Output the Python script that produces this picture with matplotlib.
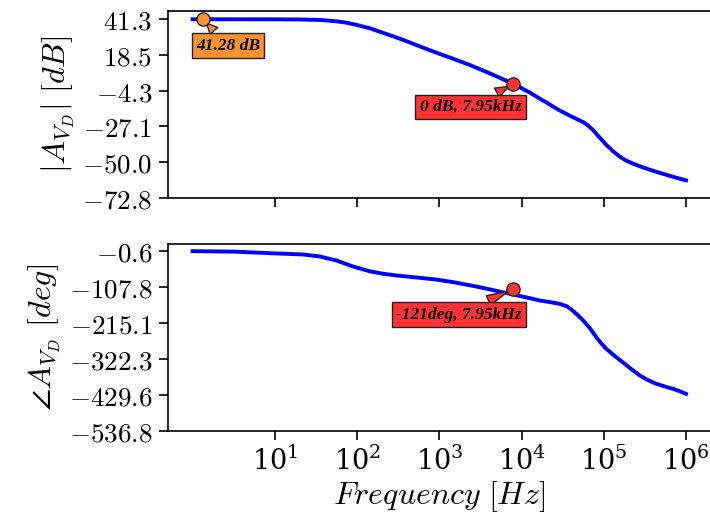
import numpy as np
import matplotlib
matplotlib.use('Agg')
import matplotlib.pyplot as plt

plt.rcParams['mathtext.fontset'] = 'cm'
plt.rcParams['font.family'] = 'serif'
plt.rcParams['axes.formatter.use_mathtext'] = True

# magnitude readings (Hz, dB)
mag_freq = [1, 3.2, 8.7, 20, 35, 56, 74, 100, 141, 224, 363, 562, 912, 1480, 2340,
            4070, 7950, 12600, 16600, 20000, 28800, 39800, 56200, 64600, 74100,
            89100, 107000, 129000, 155000, 186000, 229000, 288000, 363000, 457000,
            575000, 759000, 1000000]
mag_db = [41.28, 41.28, 41.26, 41.15, 40.85, 40.0, 39.1, 37.6, 35.6, 32.0, 28.1,
          24.2, 20.0, 16.0, 12.1, 6.8, 0.0, -5.6, -9.4, -11.9, -16.9, -20.7,
          -24.5, -26.7, -29.6, -34.3, -38.9, -43.0, -46.4, -49.0, -51.1, -53.1,
          -54.9, -56.6, -58.1, -60.0, -61.7]

# phase readings (Hz, deg)
ph_freq = [1, 3.2, 8.7, 22, 35, 56, 89, 141, 200, 302, 575, 891, 1480, 2820, 4070,
           7950, 12600, 16600, 21900, 28800, 35500, 41700, 47900, 56200, 67600,
           81300, 93300, 107000, 135000, 170000, 214000, 275000, 347000, 437000,
           550000, 692000, 832000, 1000000]
ph_deg = [-0.6, -2.0, -6.6, -10.5, -16.4, -28.4, -46.3, -60.4, -67.5, -73.2, -80.1,
          -85.0, -93.2, -106.1, -114.5, -130.0, -141.0, -147.9, -152.5, -157.7,
          -165.0, -177.8, -191.0, -207.6, -230.0, -258.0, -276.0, -292.0, -313.0,
          -332.2, -352.0, -372.0, -386.0, -396.7, -404.5, -411.6, -418.5, -426.6]

mag_ticks = [41.3, 18.5, -4.3, -27.1, -50.0, -72.8]
ph_ticks = [-0.6, -107.8, -215.1, -322.3, -429.6, -536.8]
x_ticks = [1e1, 1e2, 1e3, 1e4, 1e5, 1e6]

fig = plt.figure(figsize=(7.1, 5.19), dpi=100)
ax1 = fig.add_axes([0.237, 0.619, 0.764, 0.359])
ax2 = fig.add_axes([0.237, 0.170, 0.764, 0.360])

ax1.semilogx(mag_freq, mag_db, color='blue', lw=2.8)
ax2.semilogx(ph_freq, ph_deg, color='blue', lw=2.8)

for ax, ticks in ((ax1, mag_ticks), (ax2, ph_ticks)):
    ax.set_xlim(10**-0.296, 10**6.3)
    ax.set_xticks(x_ticks)
    ax.minorticks_off()
    ax.set_yticks(ticks, ['$%.1f$' % t for t in ticks])
    ax.tick_params(direction='out', length=6.5, width=1.2, labelsize=19.5, pad=5)
    for s in ax.spines.values():
        s.set_linewidth(1.2)
ax1.set_xticklabels([])
ax1.set_ylim(-72.8, 46.3)
ax2.set_ylim(-536.8, 21.0)

ax1.set_ylabel(r'$|A_{V_D}|\ [dB]$', fontsize=23)
ax2.set_ylabel(r'$\angle A_{V_D}\ [deg]$', fontsize=23)
ax2.set_xlabel(r'$Frequency\ [Hz]$', fontsize=23, labelpad=2)

font = dict(family='Liberation Serif', weight='bold', style='italic', size=12.5)

def mark(ax, x, y, tx, ty, text, color):
    ax.plot(x, y, 'o', ms=9.5, mfc=color, mec='#222222', mew=1.0, zorder=5)
    ax.annotate(text, xy=(x, y), xytext=(tx, ty), ha='center', va='center',
                bbox=dict(boxstyle='square,pad=0.25', fc=color, ec='#222222', lw=1.0),
                arrowprops=dict(arrowstyle='wedge,tail_width=0.6', fc=color,
                                ec='#222222', lw=1.0, shrinkB=4),
                zorder=4, **font)

mark(ax1, 1.33, 41.28, 2.69, 24.3, '41.28 dB', '#f7922f')
mark(ax1, 7950, 0.0, 2400, -14.7, '0 dB, 7.95kHz', '#ff3333')
mark(ax2, 7950, -113.0, 1720, -189.7, '-121deg, 7.95kHz', '#ff3333')

fig.savefig('out.png', dpi=100)
